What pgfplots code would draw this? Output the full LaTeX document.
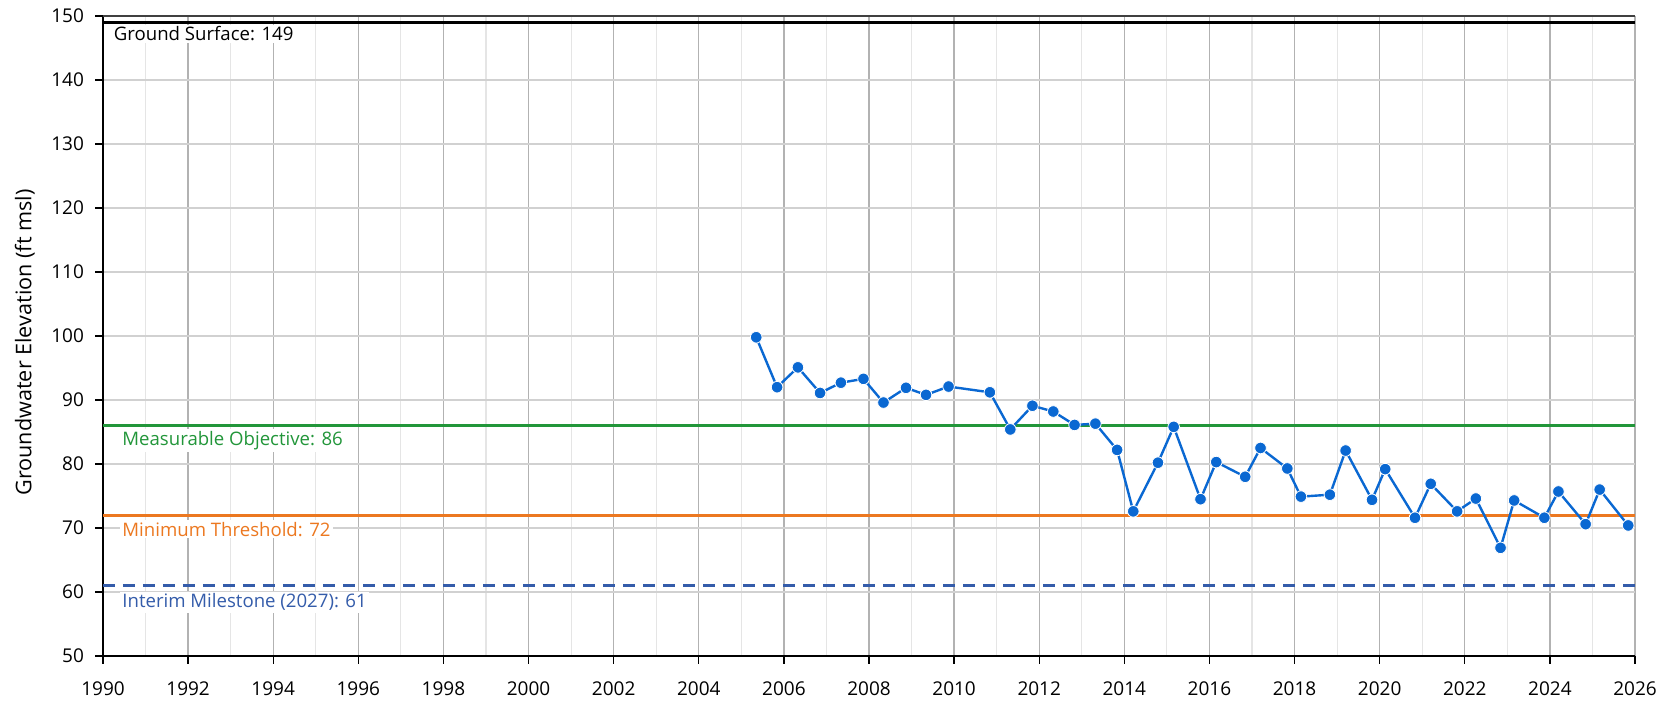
\documentclass[border=0pt]{standalone}
\usepackage{fontspec}
\setmainfont{Open Sans}
\usepackage{pgfplots}
\pgfplotsset{compat=1.18}
\definecolor{seriesblue}{RGB}{10,104,210}
\definecolor{mogreen}{RGB}{34,150,58}
\definecolor{mtorange}{RGB}{236,120,32}
\definecolor{imblue}{RGB}{52,92,170}

\begin{document}
\begin{tikzpicture}
\path (-51.5pt,-24pt) rectangle (782pt,328pt);
\begin{axis}[
  scale only axis,
  width=766pt, height=320pt,
  xmin=1990, xmax=2026,
  ymin=50, ymax=150,
  xtick distance=2, ytick distance=10,
  minor x tick num=1,
  axis x line=bottom, axis y line=left,
  axis line style={-, black, line width=0.8pt},
  tick align=outside,
  major tick length=4pt, minor tick length=0pt,
  tick style={black, line width=0.7pt},
  grid=both,
  major x grid style={color=black!30, line width=0.7pt},
  minor x grid style={color=black!10, line width=0.6pt},
  major y grid style={color=black!18, line width=0.7pt},
  /pgf/number format/1000 sep={},
  /pgf/number format/assume math mode=true,
  tick label style={font=\fontsize{9.5}{11}\selectfont},
  xticklabel style={yshift=-5.5pt},
  yticklabel style={xshift=-2pt},
  ylabel={Groundwater Elevation (ft msl)},
  ylabel style={at={(axis description cs:-0.051,0.49)}, anchor=center, font=\fontsize{10.8}{12}\selectfont},
]
% frame top and ground surface
\addplot[draw=black!75, line width=0.6pt, forget plot] coordinates {(1990,150)(2026,150)};
\addplot[draw=black, line width=1.4pt] coordinates {(1990,149)(2026,149)};
% reference levels
\addplot[draw=mogreen, line width=1.4pt] coordinates {(1990,86)(2026,86)};
\addplot[draw=mtorange, line width=1.4pt] coordinates {(1990,72)(2026,72)};
\addplot[draw=imblue, line width=1.4pt, dash pattern=on 6pt off 4pt] coordinates {(1990,61)(2026,61)};
% observed groundwater elevations
\addplot[color=seriesblue, line width=1.2pt, mark=*, mark size=2.9pt,
  mark options={fill=seriesblue, draw=white, line width=0.4pt}] coordinates {
  (2005.35,99.8)(2005.84,92.0)(2006.33,95.1)(2006.85,91.1)(2007.34,92.7)
  (2007.87,93.3)(2008.34,89.6)(2008.87,91.9)(2009.34,90.8)(2009.87,92.1)
  (2010.84,91.2)(2011.32,85.4)(2011.84,89.1)(2012.33,88.2)(2012.83,86.1)
  (2013.32,86.3)(2013.83,82.2)(2014.21,72.6)(2014.79,80.2)(2015.16,85.8)
  (2015.79,74.5)(2016.16,80.3)(2016.84,78.0)(2017.20,82.5)(2017.83,79.3)
  (2018.15,74.9)(2018.83,75.2)(2019.20,82.1)(2019.82,74.4)(2020.13,79.2)
  (2020.83,71.6)(2021.20,76.9)(2021.82,72.6)(2022.26,74.6)(2022.84,66.9)
  (2023.16,74.3)(2023.87,71.6)(2024.20,75.7)(2024.84,70.6)(2025.17,76.0)
  (2025.84,70.4)
};
\begin{scope}[every node/.style={anchor=west, inner sep=1pt, fill=white, font=\fontsize{9.3}{11}\selectfont}]
\node[text=black] at (axis cs:1990.2,147.2) {Ground Surface: 149};
\node[text=mogreen] at (axis cs:1990.4,83.7) {Measurable Objective: 86};
\node[text=mtorange] at (axis cs:1990.4,69.8) {Minimum Threshold: 72};
\node[text=imblue] at (axis cs:1990.4,58.4) {Interim Milestone (2027): 61};
\end{scope}
\end{axis}
\end{tikzpicture}
\end{document}
